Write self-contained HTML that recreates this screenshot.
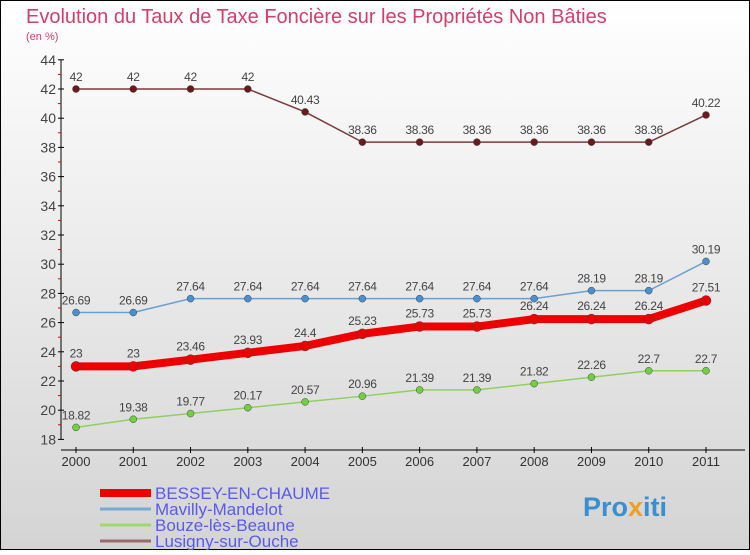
<!DOCTYPE html>
<html><head><meta charset="utf-8"><style>
html,body{margin:0;padding:0}
body{width:750px;height:550px;overflow:hidden;font-family:"Liberation Sans",sans-serif}
</style></head><body>
<svg width="750" height="550" xmlns="http://www.w3.org/2000/svg" font-family="Liberation Sans, sans-serif">
<defs><linearGradient id="bg" x1="0" y1="0" x2="0" y2="1"><stop offset="0" stop-color="#ffffff"/><stop offset="1" stop-color="#d4d4d4"/></linearGradient></defs>
<rect x="0.5" y="0.5" width="749" height="549" fill="url(#bg)" stroke="#000"/>
<text x="26" y="23" font-size="20" fill="#d0406a">Evolution du Taux de Taxe Foncière sur les Propriétés Non Bâties</text>
<text x="26" y="40" font-size="11" fill="#d0406a">(en %)</text>
<g id="axes"></g><g id="series"></g><g id="legend"></g>
<text x="583" y="516" font-size="27" font-weight="bold" fill="#3a8fd0">Pro<tspan fill="#f0a020">x</tspan>iti</text>
</svg>
<script>
const years=[2000,2001,2002,2003,2004,2005,2006,2007,2008,2009,2010,2011];
const yTicks=[18,20,22,24,26,28,30,32,34,36,38,40,42,44];
const bessey=[23,23,23.46,23.93,24.4,25.23,25.73,25.73,26.24,26.24,26.24,27.51];
const mavilly=[26.69,26.69,27.64,27.64,27.64,27.64,27.64,27.64,27.64,28.19,28.19,30.19];
const bouze=[18.82,19.38,19.77,20.17,20.57,20.96,21.39,21.39,21.82,22.26,22.7,22.7];
const lusigny=[42,42,42,42,40.43,38.36,38.36,38.36,38.36,38.36,38.36,40.22];
const names=["BESSEY-EN-CHAUME","Mavilly-Mandelot","Bouze-lès-Beaune","Lusigny-sur-Ouche"];
const NS="http://www.w3.org/2000/svg";
const xS=i=>76+i*(706-76)/11;
const yS=v=>89+(42-v)*14.6;
function mk(p,t,a){const e=document.createElementNS(NS,t);for(const k in a)e.setAttribute(k,a[k]);p.appendChild(e);return e;}
const ax=document.getElementById('axes');
let yl=mk(ax,'line',{x1:61,y1:yS(44),x2:61,y2:yS(18),stroke:'#000','stroke-width':1});


let xl=mk(ax,'line',{x1:61,y1:450,x2:745,y2:450,stroke:'#000','stroke-width':1});


yTicks.forEach(v=>{
 mk(ax,'line',{x1:58,y1:yS(v),x2:64,y2:yS(v),stroke:'#000'});
 if(v<44)mk(ax,'line',{x1:58,y1:yS(v+1),x2:61,y2:yS(v+1),stroke:'#e00000'});
 const t=mk(ax,'text',{x:56,y:yS(v)+5,'font-size':14,'text-anchor':'end',fill:'#444'});
 
 
 t.textContent=v;
});
years.forEach((y,i)=>{
 mk(ax,'line',{x1:xS(i),y1:447,x2:xS(i),y2:453,stroke:'#000'});
 const t=mk(ax,'text',{x:xS(i),y:466,'font-size':13,'text-anchor':'middle',fill:'#333'});
 
 
 t.textContent=y;
});
const sg=document.getElementById('series');
function series(data,color,w,r,dot,name,labelDy){
 const g=mk(sg,'g',{});
 
 
 mk(g,'polyline',{points:data.map((v,i)=>xS(i)+','+yS(v)).join(' '),fill:'none',stroke:color,'stroke-width':w,'stroke-linejoin':'round'});
 data.forEach((v,i)=>{
  const c=mk(g,'circle',{cx:xS(i),cy:yS(v),r:r,fill:dot,stroke:'#444','stroke-width':0.5});
  
  
  const t=mk(g,'text',{x:xS(i),y:yS(v)+labelDy,'font-size':12,'text-anchor':'middle',fill:'#444','letter-spacing':'-0.3'});
  
  
  t.textContent=v;
 });
}
series(lusigny,'#7a3a3a',1.5,3.5,'#6a1a1a','series-lusigny',-8);
series(mavilly,'#6aa0d0',1.5,3.5,'#4a90d0','series-mavilly',-8);
series(bouze,'#90d060',1.5,3.5,'#70d040','series-bouze',-8);
series(bessey,'#ee0000',8,5,'#ee0000','series-bessey',-9);
const lg=document.getElementById('legend');
const lc=['#ee0000','#7aaad0','#a0d870','#9a6a6a'],lw=[8,3,3,3];
names.forEach((n,i)=>{
 const y=493+i*16;
 const g=mk(lg,'g',{});
 
 
 mk(g,'line',{x1:100,y1:y,x2:151,y2:y,stroke:lc[i],'stroke-width':lw[i]});
 const t=mk(g,'text',{x:155,y:y+6,'font-size':17,fill:'#5a5aee'});
 t.textContent=n;
});
</script>
</body></html>
